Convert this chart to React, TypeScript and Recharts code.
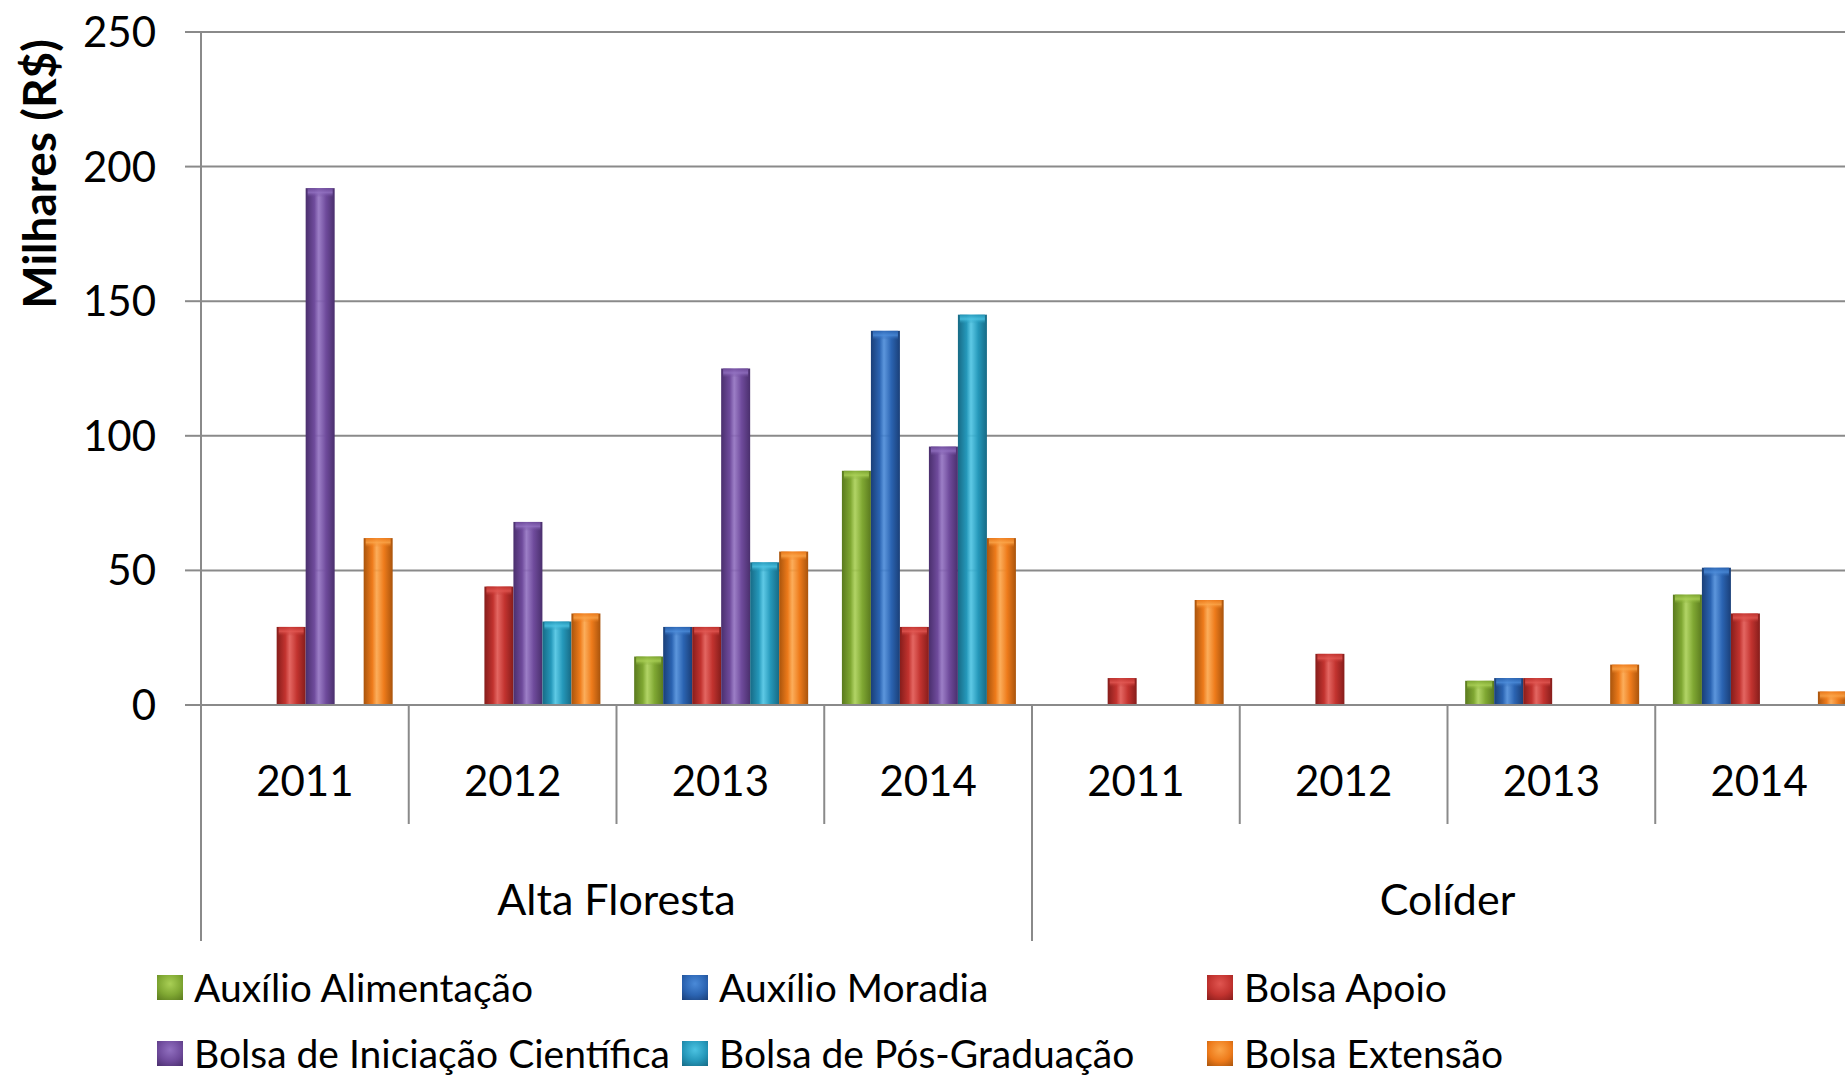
import React from 'react';
import { BarChart, Bar, XAxis, YAxis, CartesianGrid, Legend } from 'recharts';

const years = ['2011', '2012', '2013', '2014', '2011', '2012', '2013', '2014'];
const cities = ['Alta Floresta', 'Alta Floresta', 'Alta Floresta', 'Alta Floresta', 'Colíder', 'Colíder', 'Colíder', 'Colíder'];

const auxilioAlimentacao = [0, 0, 18, 87, 0, 0, 9, 41];
const auxilioMoradia = [0, 0, 29, 139, 0, 0, 10, 51];
const bolsaApoio = [29, 44, 29, 29, 10, 19, 10, 34];
const bolsaIniciacao = [192, 68, 125, 96, 0, 0, 0, 0];
const bolsaPos = [0, 31, 53, 145, 0, 0, 0, 0];
const bolsaExtensao = [62, 34, 57, 62, 39, 0, 15, 5];

const yTicks = [0, 50, 100, 150, 200, 250];

const SERIES = [
  { key: 'alim', name: 'Auxílio Alimentação', values: auxilioAlimentacao, base: '#80a833', light: '#a9cf55', dark: '#5a7a1e' },
  { key: 'mor', name: 'Auxílio Moradia', values: auxilioMoradia, base: '#2b64b2', light: '#4a8ad8', dark: '#1a3f78' },
  { key: 'apoio', name: 'Bolsa Apoio', values: bolsaApoio, base: '#c2332f', light: '#e05550', dark: '#861d1b' },
  { key: 'ic', name: 'Bolsa de Iniciação Científica', values: bolsaIniciacao, base: '#6f4b9c', light: '#9170c0', dark: '#4a2f6d' },
  { key: 'pos', name: 'Bolsa de Pós-Graduação', values: bolsaPos, base: '#2598ba', light: '#4cc3e2', dark: '#176a85' },
  { key: 'ext', name: 'Bolsa Extensão', values: bolsaExtensao, base: '#ee7b1b', light: '#fba448', dark: '#a9540c' },
];

const data = years.map((year, i) => {
  const row: any = { year, city: cities[i] };
  SERIES.forEach((s) => {
    row[s.key] = s.values[i];
  });
  return row;
});

const FONT = 'Lato, "Open Sans", sans-serif';
const GRID = '#8a8a8a';

const makeShape = (key: string) => (props: any) => {
  const { x, y, width, height } = props;
  if (!height || height <= 0) return null;
  const cap = Math.min(9, height);
  return (
    <g>
      <rect x={x} y={y} width={width} height={height} fill={`url(#body-${key})`} />
      <rect x={x + 2} y={y} width={width - 4} height={cap} fill={`url(#cap-${key})`} opacity={0.85} />
    </g>
  );
};

const YearTick = (props: any) => {
  const { x, y, payload, index } = props;
  const off = payload && payload.offset ? payload.offset : 0;
  return (
    <g>
      {index === 0 && <line x1={x - off} x2={x - off} y1={y} y2={y + 119} stroke={GRID} strokeWidth={2} />}
      <line x1={x + off} x2={x + off} y1={y} y2={y + 119} stroke={GRID} strokeWidth={2} />
      <text x={x} y={y + 91} textAnchor="middle" fontFamily={FONT} fontSize={42} fill="#000">
        {payload.value}
      </text>
    </g>
  );
};

const CityTick = (props: any) => {
  const { x, y, payload, index } = props;
  const off = payload && payload.offset ? payload.offset : 0;
  return (
    <g>
      {index === 0 && <line x1={x - off} x2={x - off} y1={y} y2={y + 117} stroke={GRID} strokeWidth={2} />}
      <line x1={x + off} x2={x + off} y1={y} y2={y + 117} stroke={GRID} strokeWidth={2} />
      <text x={x} y={y + 91} textAnchor="middle" fontFamily={FONT} fontSize={43} fill="#000">
        {payload.value}
      </text>
    </g>
  );
};

const YTitle = (props: any) => {
  const vb = props.viewBox || { x: 0, y: 32 };
  const cx = vb.x + 38;
  const cy = vb.y + 142;
  return (
    <text
      x={cx}
      y={cy}
      transform={`rotate(-90, ${cx}, ${cy})`}
      textAnchor="middle"
      dominantBaseline="central"
      fontFamily={FONT}
      fontWeight="bold"
      fontSize={46}
      fill="#000"
    >
      Milhares (R$)
    </text>
  );
};

const CustomLegend = () => {
  return (
    <div
      style={{
        display: 'grid',
        gridTemplateColumns: '525px 525px 525px',
        gridAutoRows: '66px',
        paddingLeft: 157,
        paddingTop: 13,
        fontFamily: FONT,
        fontSize: 39,
        color: '#000',
      }}
    >
      {SERIES.map((s) => (
        <div key={s.key} style={{ display: 'flex', alignItems: 'center', whiteSpace: 'nowrap' }}>
          <span
            style={{
              display: 'inline-block',
              width: 26,
              height: 25,
              marginRight: 11,
              background: `radial-gradient(circle at 50% 35%, ${s.light}, ${s.base} 55%, ${s.dark})`,
            }}
          />
          <span>{s.name}</span>
        </div>
      ))}
    </div>
  );
};

export default function App() {
  return (
    <div
      style={{
        position: 'absolute',
        left: 0,
        top: 0,
        width: 1845,
        height: 1078,
        overflow: 'hidden',
        background: '#fff',
        fontFamily: FONT,
      }}
    >
      <BarChart
        width={1863}
        height={1078}
        data={data}
        margin={{ top: 32, right: 0, bottom: 7, left: 0 }}
        barCategoryGap="8.5%"
        barGap={0}
      >
        <defs>
          {SERIES.map((s) => (
            <linearGradient key={`b-${s.key}`} id={`body-${s.key}`} x1="0" y1="0" x2="1" y2="0">
              <stop offset="0%" stopColor={s.dark} />
              <stop offset="30%" stopColor={s.base} />
              <stop offset="45%" stopColor={s.light} stopOpacity={0.9} />
              <stop offset="70%" stopColor={s.base} />
              <stop offset="100%" stopColor={s.dark} />
            </linearGradient>
          ))}
          {SERIES.map((s) => (
            <linearGradient key={`c-${s.key}`} id={`cap-${s.key}`} x1="0" y1="0" x2="0" y2="1">
              <stop offset="0%" stopColor={s.base} />
              <stop offset="50%" stopColor={s.light} />
              <stop offset="100%" stopColor={s.base} stopOpacity={0} />
            </linearGradient>
          ))}
        </defs>
        <CartesianGrid vertical={false} xAxisId={0} stroke={GRID} strokeWidth={2} />
        <XAxis
          xAxisId={0}
          dataKey="year"
          height={119}
          interval={0}
          tickSize={0}
          tickMargin={0}
          tickLine={false}
          axisLine={{ stroke: GRID, strokeWidth: 2 }}
          tick={<YearTick />}
        />
        <XAxis
          xAxisId={1}
          dataKey="city"
          allowDuplicatedCategory={false}
          height={117}
          interval={0}
          tickSize={0}
          tickMargin={0}
          tickLine={false}
          axisLine={false}
          tick={<CityTick />}
        />
        <YAxis
          width={201}
          domain={[0, 250]}
          ticks={yTicks}
          interval={0}
          tickSize={16}
          tickMargin={29}
          tickLine={{ stroke: GRID, strokeWidth: 2 }}
          axisLine={{ stroke: GRID, strokeWidth: 2 }}
          tick={{ fontFamily: FONT, fontSize: 42, fill: '#000' }}
          label={{ content: <YTitle /> }}
        />
        <Legend
          verticalAlign="bottom"
          height={130}
          wrapperStyle={{ height: 130, width: 1845 }}
          content={<CustomLegend />}
        />
        {SERIES.map((s) => (
          <Bar
            key={s.key}
            xAxisId={0}
            dataKey={s.key}
            name={s.name}
            fill={s.base}
            shape={makeShape(s.key)}
            isAnimationActive={false}
          />
        ))}
      </BarChart>
    </div>
  );
}
